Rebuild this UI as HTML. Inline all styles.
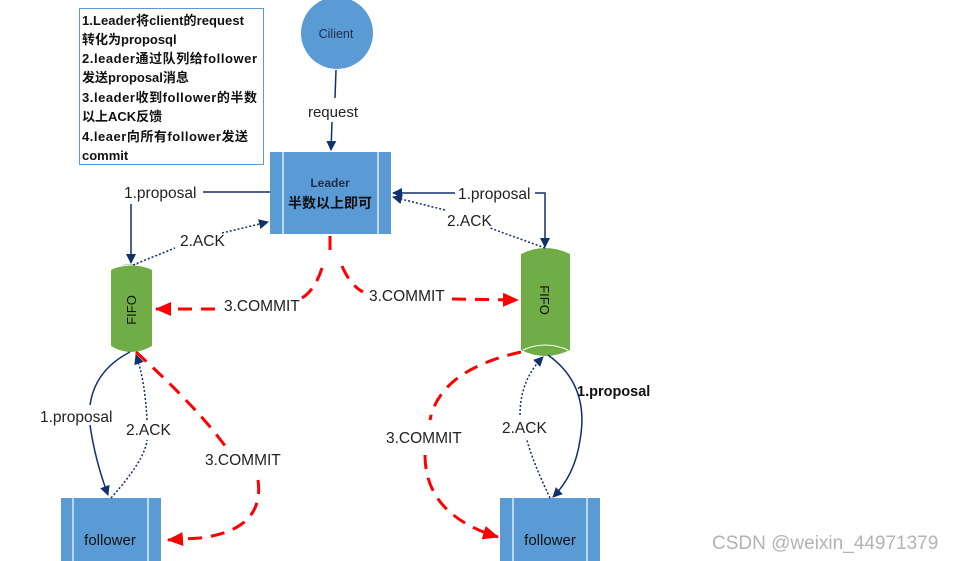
<!DOCTYPE html>
<html><head><meta charset="utf-8"><style>
html,body{margin:0;padding:0;background:#fff;}
svg{display:block;}
text{font-family:"Liberation Sans","Noto Sans CJK SC",sans-serif;}
</style></head><body>
<svg width="959" height="561" viewBox="0 0 959 561" xmlns="http://www.w3.org/2000/svg">
<defs>
<marker id="ab" markerWidth="10" markerHeight="10" refX="9" refY="5" orient="auto" markerUnits="userSpaceOnUse"><path d="M0,0 L10,5 L0,10 z" fill="#12306b"/></marker>
<marker id="ar" markerWidth="16" markerHeight="14" refX="15" refY="7" orient="auto" markerUnits="userSpaceOnUse"><path d="M0,0 L16,7 L0,14 z" fill="#f00"/></marker>
</defs>
<rect x="79.5" y="8.5" width="184" height="156" fill="#fff" stroke="#5b9bd5" stroke-width="1"/>
<g font-size="13" font-weight="bold" fill="#111">
<text x="82" y="25" textLength="162">1.Leader将client的request</text>
<text x="82" y="44">转化为proposql</text>
<text x="82" y="63" textLength="175">2.leader通过队列给follower</text>
<text x="82" y="82">发送proposal消息</text>
<text x="82" y="102" textLength="175">3.leader收到follower的半数</text>
<text x="82" y="121">以上ACK反馈</text>
<text x="82" y="141" textLength="166">4.leaer向所有follower发送</text>
<text x="82" y="160">commit</text>
</g>
<circle cx="337" cy="33" r="36" fill="#5b9bd5"/>
<text x="336" y="38" font-size="12.5" text-anchor="middle" fill="#1f2d4a">Cilient</text>
<line x1="336" y1="70" x2="335" y2="98" stroke="#12306b" stroke-width="1.5"/>
<text x="333" y="117" font-size="15" text-anchor="middle" fill="#222">request</text>
<line x1="332" y1="122" x2="331" y2="150" stroke="#12306b" stroke-width="1.5" marker-end="url(#ab)"/>
<rect x="270" y="152" width="121" height="82" fill="#5b9bd5"/>
<line x1="283" y1="152" x2="283" y2="234" stroke="#fff" stroke-width="1.2"/>
<line x1="378" y1="152" x2="378" y2="234" stroke="#fff" stroke-width="1.2"/>
<text x="330" y="187" font-size="12" font-weight="bold" text-anchor="middle" fill="#1f2d4a">Leader</text>
<text x="330" y="208" font-size="14" font-weight="bold" text-anchor="middle" fill="#111">半数以上即可</text>
<path d="M111,270 Q131,258 152,270 L152,346 Q131,358 111,346 Z" fill="#70ad47"/>
<path d="M114,268 Q131,262 149,268" fill="none" stroke="#fff" stroke-width="1"/>
<text transform="translate(136,310) rotate(-90)" font-size="13" text-anchor="middle" fill="#111">FIFO</text>
<path d="M521,254 Q545,242 570,254 L570,350 Q545,362 521,350 Z" fill="#70ad47"/>
<path d="M523,350 Q545,340 568,350" fill="none" stroke="#fff" stroke-width="1"/>
<text transform="translate(540,300) rotate(90)" font-size="13" text-anchor="middle" fill="#111">FIFO</text>
<rect x="61" y="498" width="100" height="63" fill="#5b9bd5"/>
<line x1="73" y1="498" x2="73" y2="561" stroke="#fff" stroke-width="1.2"/>
<line x1="148" y1="498" x2="148" y2="561" stroke="#fff" stroke-width="1.2"/>
<text x="110" y="545" font-size="15" text-anchor="middle" fill="#111">follower</text>
<rect x="500" y="498" width="100" height="63" fill="#5b9bd5"/>
<line x1="513" y1="498" x2="513" y2="561" stroke="#fff" stroke-width="1.2"/>
<line x1="587" y1="498" x2="587" y2="561" stroke="#fff" stroke-width="1.2"/>
<text x="550" y="545" font-size="15" text-anchor="middle" fill="#111">follower</text>
<line x1="270" y1="192" x2="203" y2="192" stroke="#12306b" stroke-width="1.5"/>
<text x="124" y="198" font-size="15.5" fill="#222">1.proposal</text>
<line x1="131" y1="204" x2="131" y2="263" stroke="#12306b" stroke-width="1.5" marker-end="url(#ab)"/>
<path d="M133,265 L175,248 M222,233 L268,222" stroke="#12306b" stroke-width="1.5" stroke-dasharray="2,2" fill="none" marker-end="url(#ab)"/>
<text x="180" y="246" font-size="15.5" fill="#222">2.ACK</text>
<line x1="455" y1="193" x2="393" y2="193" stroke="#12306b" stroke-width="1.5" marker-end="url(#ab)"/>
<text x="458" y="199" font-size="15.5" fill="#222">1.proposal</text>
<path d="M535,193 L545,193 L545,247" stroke="#12306b" stroke-width="1.5" fill="none" marker-end="url(#ab)"/>
<path d="M545,248 L490,228" stroke="#12306b" stroke-width="1.5" stroke-dasharray="2,2" fill="none"/>
<path d="M445,210 L393,197" stroke="#12306b" stroke-width="1.5" stroke-dasharray="2,2" fill="none" marker-end="url(#ab)"/>
<text x="447" y="226" font-size="15.5" fill="#222">2.ACK</text>
<g stroke="#f00" stroke-width="3" fill="none" stroke-dasharray="14,9">
<path d="M330,236 L330,258"/>
<path d="M322,268 Q315,290 302,298"/>
<path d="M215,309 L156,309" marker-end="url(#ar)"/>
<path d="M342,266 Q350,285 363,292"/>
<path d="M452,299 L518,300" marker-end="url(#ar)"/>
</g>
<text x="224" y="311" font-size="15.5" fill="#222">3.COMMIT</text>
<text x="369" y="301" font-size="15.5" fill="#222">3.COMMIT</text>
<path d="M130,352 Q95,370 90,405 M90,425 Q95,460 108,495" stroke="#12306b" stroke-width="1.5" fill="none" marker-end="url(#ab)"/>
<text x="40" y="422" font-size="15.5" fill="#222">1.proposal</text>
<path d="M111,498 Q145,460 147,440 M147,420 Q145,380 136,355" stroke="#12306b" stroke-width="1.5" stroke-dasharray="2,2" fill="none" marker-end="url(#ab)"/>
<text x="126" y="435" font-size="15.5" fill="#222">2.ACK</text>
<path d="M136,352 Q200,410 228,450 M258,480 Q265,530 200,538 L168,540" stroke="#f00" stroke-width="3" stroke-dasharray="14,9" fill="none" marker-end="url(#ar)"/>
<text x="205" y="465" font-size="15.5" fill="#222">3.COMMIT</text>
<path d="M521,352 Q440,370 430,420 M425,455 Q425,515 498,537" stroke="#f00" stroke-width="3" stroke-dasharray="14,9" fill="none" marker-end="url(#ar)"/>
<text x="386" y="443" font-size="15.5" fill="#222">3.COMMIT</text>
<path d="M548,355 Q590,385 580,440 Q575,475 553,497" stroke="#12306b" stroke-width="1.5" fill="none" marker-end="url(#ab)"/>
<text x="577" y="396" font-size="14.5" font-weight="bold" fill="#111">1.proposal</text>
<path d="M550,498 Q532,460 527,440 M520,415 Q520,380 543,357" stroke="#12306b" stroke-width="1.5" stroke-dasharray="2,2" fill="none" marker-end="url(#ab)"/>
<text x="502" y="433" font-size="15.5" fill="#222">2.ACK</text>
<text x="712" y="549" font-size="19" fill="#b3b3b3">CSDN @weixin_44971379</text>
</svg>
</body></html>
